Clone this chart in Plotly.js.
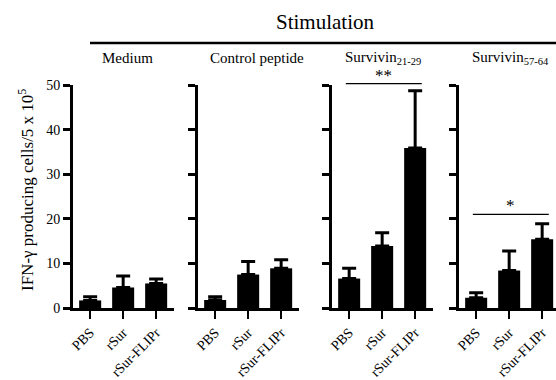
<!DOCTYPE html>
<html>
<head>
<meta charset="utf-8">
<script src="https://cdn.plot.ly/plotly-3.0.1.min.js"></script>
<style>html,body{margin:0;padding:0;background:#fff;}#chart{width:556px;height:380px;}</style>
</head>
<body>
<div id="chart"></div>
<script>
// ---- data ----
const categories = ["PBS", "rSur", "rSur-FLIPr"];
const panelTitles = ["Medium", "Control peptide", "Survivin<sub>21-29</sub>", "Survivin<sub>57-64</sub>"];
const mediumMean = [1.7, 4.6, 5.5];
const mediumTop = [2.5, 7.2, 6.5];
const controlMean = [1.8, 7.5, 8.9];
const controlTop = [2.5, 10.4, 10.8];
const sur2129Mean = [6.6, 13.9, 35.9];
const sur2129Top = [8.9, 16.9, 48.7];
const sur5764Mean = [2.3, 8.4, 15.4];
const sur5764Top = [3.4, 12.8, 18.9];
const yTicks = [0, 10, 20, 30, 40, 50];
const yTitle = "IFN-γ producing cells/5 x 10<sup>5</sup>";
const headerTitle = "Stimulation";
// significance brackets: panel index, bracket y value, star label y, label
const sigPanels = [2, 3];
const sigLineY = [50.3, 21.0];
const sigLabelY = [52.2, 23.0];
const sigLabels = ["**", "*"];

// ---- layout helpers ----
const W = 556, H = 380;
const FONT = "Liberation Serif, Times New Roman, serif";
const means = [mediumMean, controlMean, sur2129Mean, sur5764Mean];
const tops = [mediumTop, controlTop, sur2129Top, sur5764Top];
const axisPx = [73, 198, 332, 459];
const titleLeftPx = [100, 208, 343, 470];
const catPx = 33;
const rangeStart = -0.52, rangeEnd = 2.54;
const yTopPx = 85, yBotPx = 308;
const yDom = [(H - yBotPx) / H, (H - yTopPx) / H];
const yToPaper = v => yDom[0] + v / 50 * (yDom[1] - yDom[0]);
const xToPaper = (p, c) => (axisPx[p] + (c - rangeStart) * catPx) / W;

const data = [];
const layout = {
  width: W, height: H,
  margin: {l: 0, r: 0, t: 0, b: 0},
  paper_bgcolor: "#fff", plot_bgcolor: "rgba(0,0,0,0)",
  showlegend: false,
  bargap: 0.333,
  font: {family: FONT, color: "#000", size: 14},
  shapes: [], annotations: []
};

for (let p = 0; p < 4; p++) {
  const sfx = p === 0 ? "" : String(p + 1);
  const xName = "xaxis" + sfx, yName = "yaxis" + sfx;
  const startPx = axisPx[p];
  let endPx = startPx + (rangeEnd - rangeStart) * catPx;
  let rEnd = rangeEnd;
  if (endPx > W) { endPx = W; rEnd = rangeStart + (W - startPx) / catPx; }
  data.push({
    type: "bar",
    x: categories,
    y: means[p],
    xaxis: "x" + sfx, yaxis: "y" + sfx,
    marker: {color: "#000", line: {width: 0}},
    error_y: {
      type: "data", symmetric: false,
      array: tops[p].map((t, i) => +(t - means[p][i]).toFixed(2)),
      arrayminus: means[p].map(() => 0),
      color: "#000", thickness: 3, width: 7
    },
    hoverinfo: "skip"
  });
  layout[xName] = {
    domain: [startPx / W, endPx / W],
    anchor: "y" + sfx,
    type: "category",
    range: [rangeStart, rEnd],
    showline: true, linecolor: "#000", linewidth: 3,
    ticks: "outside", ticklen: 8, tickwidth: 2.5, tickcolor: "#000",
    tickangle: -45,
    tickfont: {family: FONT, size: 14, color: "#000"},
    showgrid: false, zeroline: false, fixedrange: true
  };
  layout[yName] = {
    domain: yDom,
    anchor: "x" + sfx,
    range: [0, 50],
    tickvals: yTicks,
    ticktext: yTicks.map(String),
    showticklabels: p === 0,
    showline: true, linecolor: "#000", linewidth: 3,
    ticks: "outside", ticklen: 7, tickwidth: 3, tickcolor: "#000",
    tickfont: {family: FONT, size: 14, color: "#000"},
    showgrid: false, zeroline: false, fixedrange: true
  };
  // panel title
  layout.annotations.push({
    xref: "paper", yref: "paper",
    x: titleLeftPx[p] / W, y: (H - 58) / H,
    xanchor: "left", yanchor: "middle",
    text: panelTitles[p], showarrow: false,
    font: {family: FONT, size: 15, color: "#000"}
  });
}

// significance brackets
sigPanels.forEach((p, k) => {
  layout.shapes.push({
    type: "line", xref: "paper", yref: "paper",
    x0: xToPaper(p, -0.1), x1: xToPaper(p, 2.2),
    y0: yToPaper(sigLineY[k]), y1: yToPaper(sigLineY[k]),
    line: {color: "#000", width: 1.2}
  });
  layout.annotations.push({
    xref: "paper", yref: "paper",
    x: xToPaper(p, 1.05), y: yToPaper(sigLabelY[k]),
    text: sigLabels[k], showarrow: false,
    xanchor: "center", yanchor: "middle",
    font: {family: FONT, size: 17, color: "#000"}
  });
});

// header
layout.shapes.push({
  type: "line", xref: "paper", yref: "paper",
  x0: 90 / W, x1: 1, y0: (H - 43) / H, y1: (H - 43) / H,
  line: {color: "#000", width: 2.5}
});
layout.annotations.push({
  xref: "paper", yref: "paper", x: 325 / W, y: (H - 22) / H,
  xanchor: "center", yanchor: "middle",
  text: headerTitle, showarrow: false,
  font: {family: FONT, size: 21, color: "#000"}
});
// y title
layout.annotations.push({
  xref: "paper", yref: "paper", x: 26 / W, y: (H - 190) / H,
  xanchor: "center", yanchor: "middle", textangle: -90,
  text: yTitle, showarrow: false,
  font: {family: FONT, size: 17, color: "#000"}
});

Plotly.newPlot("chart", data, layout, {staticPlot: true, displayModeBar: false});
</script>
</body>
</html>
